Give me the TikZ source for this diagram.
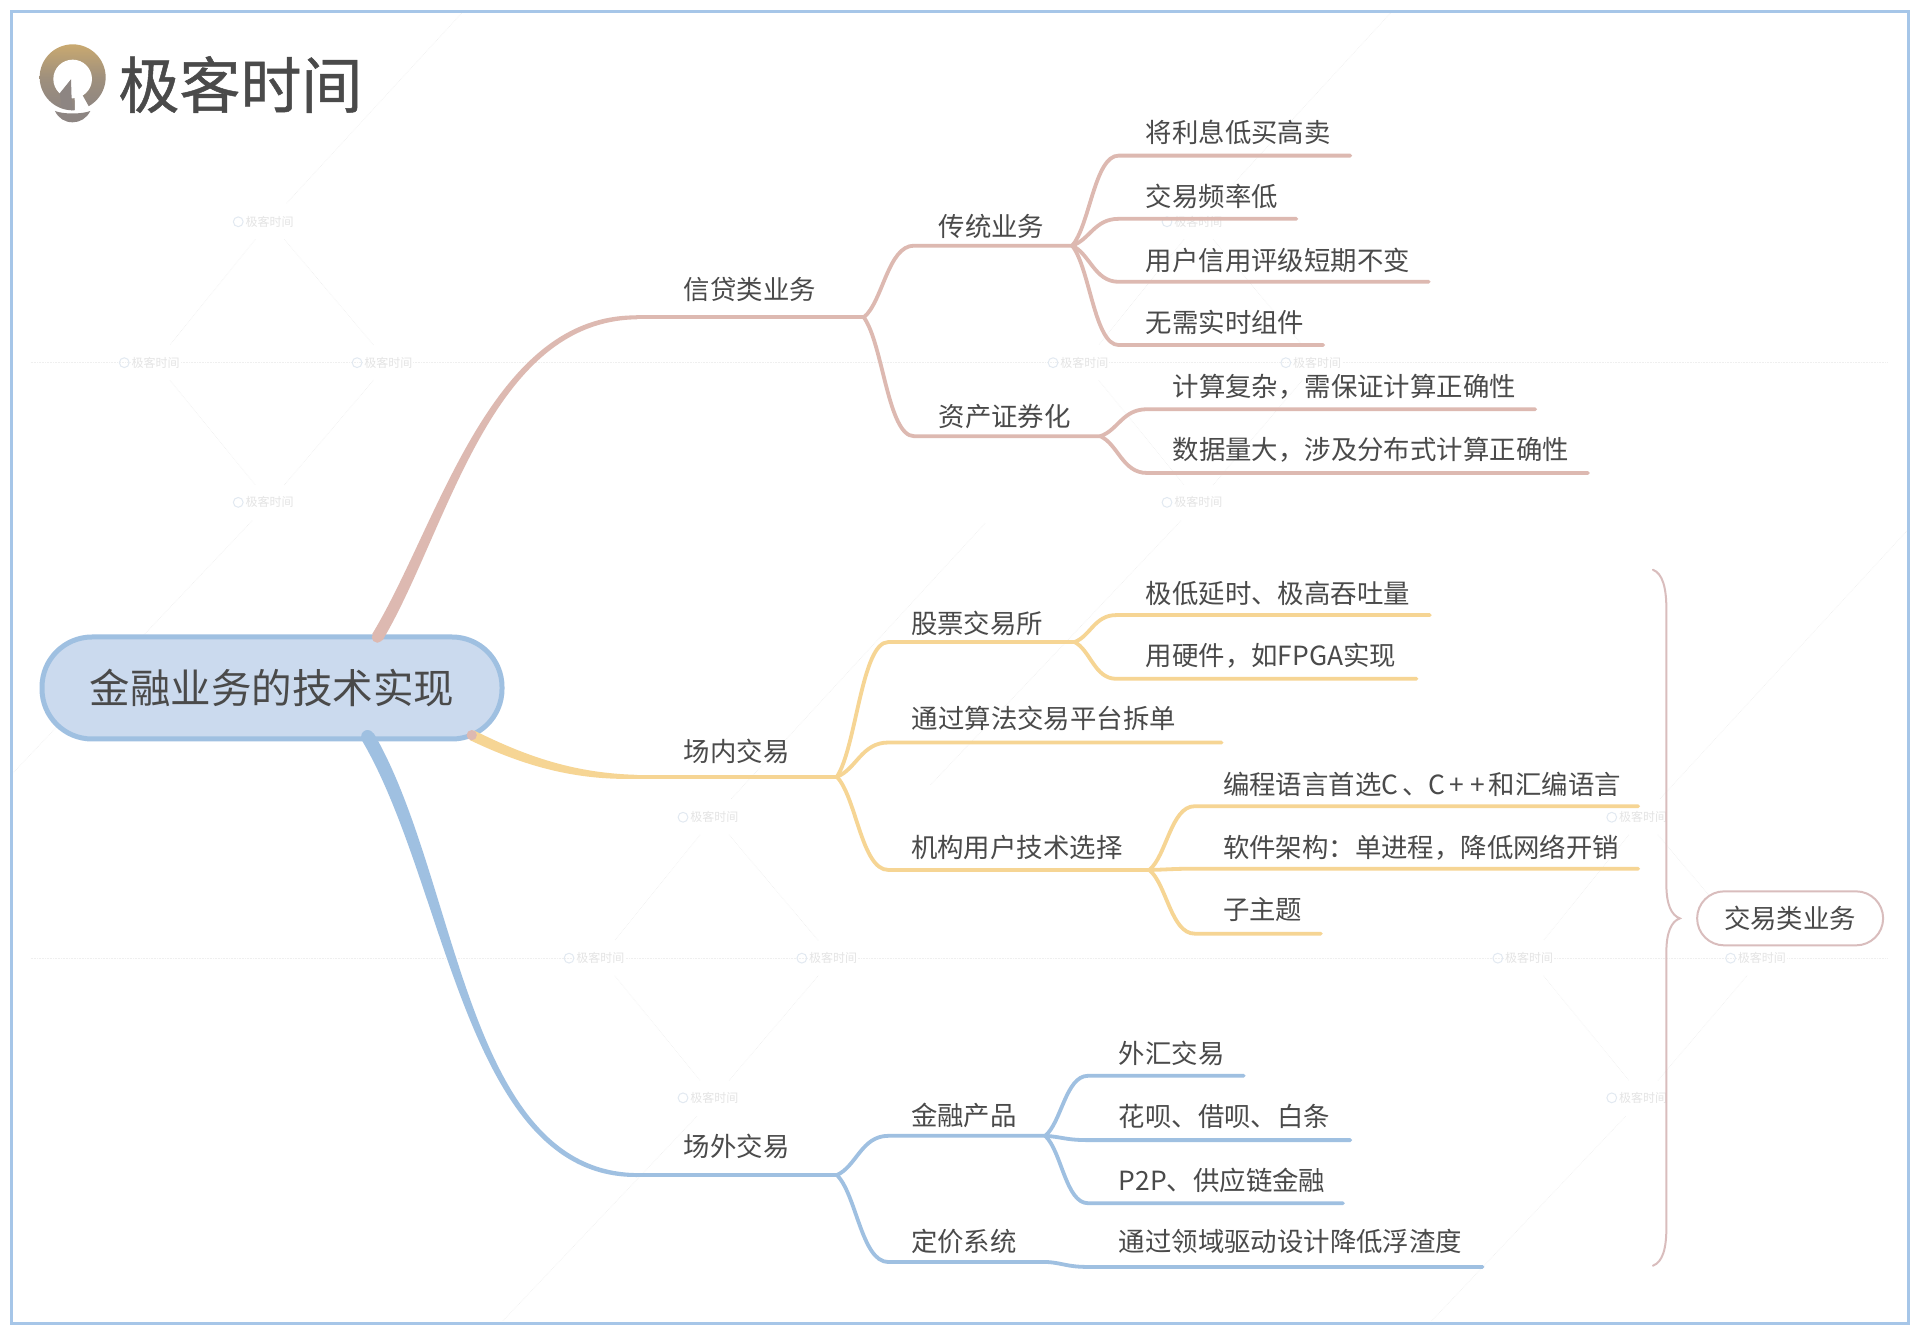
\documentclass[tikz,border=0pt]{standalone}
\usepackage{fontspec}
\setmainfont{Noto Sans CJK SC}
\newfontfamily\logofont[FakeBold=0.8]{Noto Sans CJK SC}
\usetikzlibrary{calc}
\definecolor{pinkc}{HTML}{DDB9B1}
\definecolor{orangec}{HTML}{F6D594}
\definecolor{bluec}{HTML}{9FC0E1}
\definecolor{rootfill}{HTML}{CBDAEE}
\definecolor{framec}{HTML}{A6C6E8}
\definecolor{inkc}{HTML}{4A4A4A}
\definecolor{bracec}{HTML}{D9BDBD}
\definecolor{wmline}{HTML}{EFEFEF}
\definecolor{wmtext}{HTML}{E4E4E4}
\definecolor{wmicon}{HTML}{E2E9F1}
\definecolor{logotop}{HTML}{C9A970}
\definecolor{logobot}{HTML}{8D8582}
\tikzset{
  lbl/.style={anchor=west,inner sep=0pt,text=inkc,font=\fontsize{26.4pt}{26.4pt}\selectfont,text height=22pt,text depth=3pt},
  wmark/.style={inner sep=1pt,fill=white,text=wmtext,font=\fontsize{12pt}{12pt}\selectfont},
  wmdot/.style={wmline,line width=.6pt,densely dotted},
  bough/.style={line width=3.8pt,line cap=round,line join=round}
}
% colour, parent coordinate, name, x where the line turns level, y of line, x of line end, text x, text y, text
\newcommand{\limb}[9]{%
  \coordinate (#3-s) at (#4,#5);
  \coordinate (#3-e) at (#6,#5);
  \node[lbl] (#3) at (#7,#8) {#9};
  \draw[bough,#1] let \p1=(#2),\p2=(#3-s) in (\p1)
    .. controls ({\x1+0.38*(\x2-\x1)},{\y1+0.22*(\y2-\y1)}) and ({\x1+0.48*(\x2-\x1)},\y2) .. (\p2) -- (#3-e);
}
% colour, start, c1, c2, end, start half-width vector: tapered trunk
\newcommand{\trunk}[6]{%
  \fill[#1] ($(#2)+#6$) .. controls ($(#3)+.9*#6$) and ($(#4)+(0,-3)$) .. ($(#5)+(0,-1.6)$)
    -- ($(#5)+(0,1.6)$) .. controls ($(#4)+(0,3)$) and ($(#3)-.9*#6$) .. ($(#2)-#6$) -- cycle;
}
\begin{document}
\begin{tikzpicture}[x=1.22527pt,y=-1.22527pt]
\useasboundingbox (0,0) rectangle (1567,1088.75);
\fill[white] (0,0) rectangle (1567,1088.75);

% faint watermark lattice
\begin{scope}
\clip (11,11) rectangle (1556,1078);
\draw[wmdot] (25,296) coordinate (hA) -- (1540,296) coordinate (hB);
\draw[wmdot] (25,782) coordinate (hC) -- (1540,782) coordinate (hD);
\foreach \i/\cx/\cy in {a/216/296,b/974/296,c/579/782,d/1337/782}{
  \node[wmark] (\i n) at ({\cx+4},{\cy-115}) {极客时间};
  \node[wmark] (\i w) at ({\cx-89},\cy) {极客时间};
  \node[wmark] (\i e) at ({\cx+101},\cy) {极客时间};
  \node[wmark] (\i s) at ({\cx+4},{\cy+114}) {极客时间};
  \foreach \q in {n,w,e,s}{\draw[wmicon,line width=1pt] ($(\i\q.west)+(-5,0)$) circle (4);}
  \draw[wmdot,shorten >=14pt,shorten <=14pt] (\i n) -- (\i w);
  \draw[wmdot,shorten >=14pt,shorten <=14pt] (\i n) -- (\i e);
  \draw[wmdot,shorten >=14pt,shorten <=14pt] (\i s) -- (\i w);
  \draw[wmdot,shorten >=14pt,shorten <=14pt] (\i s) -- (\i e);
  \coordinate (\i ne) at ({\cx+225},{\cy-355});
  \coordinate (\i sw) at ({\cx-215},{\cy+345});
  \draw[wmdot,shorten <=16pt] (\i n) -- (\i ne);
  \draw[wmdot,shorten <=16pt] (\i s) -- (\i sw);
}
\end{scope}

% frame
\draw[framec,line width=3pt] (9.3,9.3) rectangle (1558,1080);

% logo (drawn in crop units of the reference)
\begin{scope}[shift={(25pt,-35pt)},x=.3333pt,y=-.3333pt]
  \shade[top color=logotop,bottom color=logobot,middle color=logobot!70!logotop] (143,127) circle (99);
  \fill[white] (143,132) circle (58);
  \fill[white] (148,132) -- (150,232) -- (192,216) -- (172,180) -- cycle;
  \fill[logobot] (138,133) -- (104,175) -- (110,215) -- (141,226) -- cycle;
  \fill[logobot] (90,228) .. controls (115,238) and (170,238) .. (196,228) .. controls (185,250) and (165,262) .. (143,262) .. controls (120,262) and (100,250) .. (90,228) -- cycle;
\end{scope}
\node[anchor=west,inner sep=0pt,text=inkc,font=\logofont\fontsize{61pt}{61pt}\selectfont] (logotext) at (96.5,69) {极客时间};

% root
\node[draw=bluec,fill=rootfill,line width=5pt,rounded corners=50pt,minimum width=460pt,minimum height=102pt,text=inkc,inner sep=0pt,font=\fontsize{40.5pt}{40.5pt}\selectfont] (root) at (222,561.5) {金融业务的技术实现};

% coordinates of the trunks
\coordinate (pk0) at (308,520);
\coordinate (pk1) at (362,430);
\coordinate (pk2) at (400,259);
\coordinate (pk3) at (520,259);
\coordinate (or0) at (385,600);
\coordinate (or1) at (430,622);
\coordinate (or2) at (470,634);
\coordinate (or3) at (520,634);
\coordinate (bl0) at (300,601);
\coordinate (bl1) at (370,720);
\coordinate (bl2) at (380,959);
\coordinate (bl3) at (520,959);

% trunks
\trunk{pinkc}{pk0}{pk1}{pk2}{pk3}{(-4.2,-2.6)}
\fill[pinkc] (pk0) circle (4.6);
\trunk{orangec}{or0}{or1}{or2}{or3}{(1.6,-4)}
\fill[pinkc] (or0) circle (4.2);
\trunk{bluec}{bl0}{bl1}{bl2}{bl3}{(5,-2.6)}
\fill[bluec] (bl0) circle (5.2);

% credit branch
\coordinate (p1) at (705,259);
\coordinate (o1) at (683,634);
\coordinate (b1) at (683,959);
\node[lbl] (xd) at (558,237) {信贷类业务};
\draw[bough,pinkc] (pk3) -- (p1);
\limb{pinkc}{p1}{ct}{746}{200.5}{875}{766}{185}{传统业务}
\limb{pinkc}{p1}{zc}{746}{356}{898}{766}{340}{资产证券化}
\limb{pinkc}{ct-e}{l1}{913}{127}{1102}{935}{108.5}{将利息低买高卖}
\limb{pinkc}{ct-e}{l2}{913}{178.6}{1058}{935}{160.5}{交易频率低}
\limb{pinkc}{ct-e}{l3}{913}{230}{1166}{935}{213}{用户信用评级短期不变}
\limb{pinkc}{ct-e}{l4}{913}{281.6}{1080}{935}{263.5}{无需实时组件}
\limb{pinkc}{zc-e}{l5}{936}{334}{1253}{957}{315.5}{计算复杂，需保证计算正确性}
\limb{pinkc}{zc-e}{l6}{936}{386}{1296}{957}{367.5}{数据量大，涉及分布式计算正确性}

% exchange branch
\node[lbl] (cn) at (558,614) {场内交易};
\draw[bough,orangec] (or3) -- (o1);
\limb{orangec}{o1}{gp}{725}{524}{877}{743.5}{509}{股票交易所}
\limb{orangec}{o1}{sf}{725}{606}{997}{744}{587}{通过算法交易平台拆单}
\limb{orangec}{o1}{jg}{725}{710}{938}{743.5}{692}{机构用户技术选择}
\limb{orangec}{gp-e}{m1}{911}{502}{1167}{935}{485}{极低延时、极高吞吐量}
\limb{orangec}{gp-e}{m2}{911}{554}{1156}{935}{535.5}{用硬件，如FPGA实现}
\limb{orangec}{jg-e}{m3}{975}{658}{1337}{998}{640.5}{编程语言首选C\kern4pt、C\kern4pt+\kern6pt+\kern4pt和汇编语言}
\limb{orangec}{jg-e}{m4}{975}{709}{1337}{998}{692}{软件架构：单进程，降低网络开销}
\limb{orangec}{jg-e}{m5}{975}{762}{1078}{998}{743}{子主题}

% OTC branch
\node[lbl] (cw) at (558,936) {场外交易};
\draw[bough,bluec] (bl3) -- (b1);
\limb{bluec}{b1}{jr}{725}{927}{853}{743.5}{911}{金融产品}
\limb{bluec}{b1}{dj}{725}{1030}{855}{743.5}{1014}{定价系统}
\limb{bluec}{jr-e}{n1}{888}{878}{1015}{913}{860}{外汇交易}
\limb{bluec}{jr-e}{n2}{888}{930.5}{1102}{913}{912}{花呗、借呗、白条}
\limb{bluec}{jr-e}{n3}{888}{982}{1096}{913}{964}{P2P、供应链金融}
\limb{bluec}{dj-e}{n4}{888}{1034}{1210}{913}{1014}{通过领域驱动设计降低浮渣度}

% summary brace and its node
\coordinate (brT) at (1349,465);
\coordinate (brM) at (1371,749.5);
\coordinate (brB) at (1349,1033);
\draw[bracec,line width=2pt,line cap=round] (brT) .. controls (1357,468) and (1360,480) .. (1360,497) -- (1360,722)
  .. controls (1360,738) and (1364,747) .. (brM) .. controls (1364,752) and (1360,761) .. (1360,777) -- (1360,1002)
  .. controls (1360,1019) and (1357,1030) .. (brB);
\node[draw=bracec,fill=white,line width=2pt,rounded corners=27pt,minimum width=186pt,minimum height=54pt,inner sep=0pt,text=inkc,font=\fontsize{26.4pt}{26.4pt}\selectfont] (sum) at (1461,749.5) {交易类业务};
\end{tikzpicture}
\end{document}
